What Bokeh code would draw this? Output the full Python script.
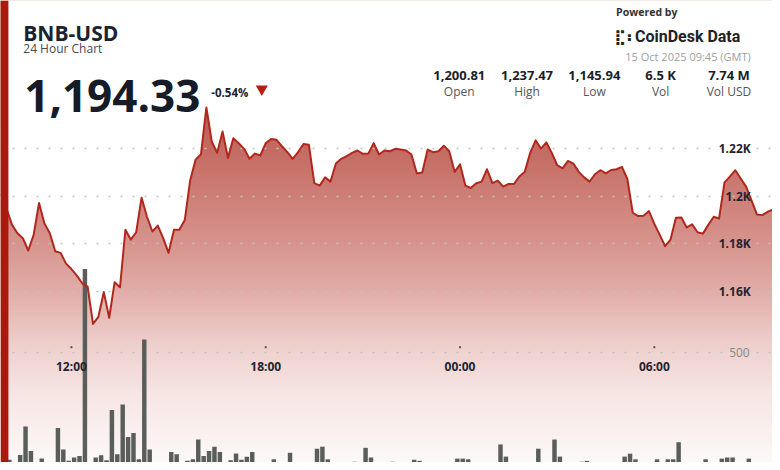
import numpy as np
import pandas as pd
from bokeh.plotting import figure
from bokeh.models import Range1d, Grid, FixedTicker, BoxAnnotation
from bokeh.core.properties import value
from bokeh.embed import file_html
from bokeh.resources import INLINE

# ---------------- data ----------------
symbol = "BNB-USD"
subtitle = "24 Hour Chart"
last_price = "1,194.33"
change_pct = "-0.54%"
stat_values = ["1,200.81", "1,237.47", "1,145.94", "6.5 K", "7.74 M"]
stat_labels = ["Open", "High", "Low", "Vol", "Vol USD"]
powered_by = "Powered by"
brand = "CoinDesk Data"
timestamp_label = "15 Oct 2025 09:45 (GMT)"

price_ticks = [1160, 1180, 1200, 1220]
price_tick_labels = ["1.16K", "1.18K", "1.2K", "1.22K"]
volume_ticks = [500]
volume_tick_labels = ["500"]
time_ticks = ["2025-10-14 12:00", "2025-10-14 18:00", "2025-10-15 00:00", "2025-10-15 06:00"]
time_tick_labels = ["12:00", "18:00", "00:00", "06:00"]

start_time = "2025-10-14 09:50"   # 10-minute candles
prices = [
    1200.8, 1194.5, 1187.9, 1184.4, 1182.3, 1177.1, 1183.7, 1197.1, 1188.5, 1184.4, 1176.8, 1176.1,
    1171.6, 1169.3, 1166.5, 1163.3, 1161.9, 1146.2, 1149.2, 1159.6, 1148.8, 1163.7, 1161.6, 1185.8,
    1181.7, 1184.8, 1199.3, 1191.3, 1185.1, 1187.6, 1182.3, 1176.1, 1185.8, 1185.8, 1189.9, 1206.6,
    1215.3, 1217.6, 1237.3, 1223.0, 1218.2, 1227.2, 1216.1, 1224.4, 1222.3, 1219.9, 1215.7, 1217.9,
    1217.1, 1222.3, 1224.0, 1223.7, 1221.0, 1218.5, 1215.7, 1218.5, 1221.9, 1221.6, 1205.5, 1204.4,
    1207.9, 1206.1, 1213.7, 1215.7, 1216.8, 1218.2, 1219.2, 1217.8, 1217.9, 1222.3, 1217.5, 1219.2,
    1218.9, 1219.9, 1219.6, 1219.2, 1217.5, 1209.5, 1209.9, 1219.6, 1218.5, 1218.9, 1221.2, 1218.9,
    1210.2, 1213.4, 1204.4, 1203.4, 1205.4, 1206.1, 1211.3, 1205.5, 1206.5, 1204.0, 1205.1, 1205.1,
    1208.3, 1210.3, 1218.2, 1223.5, 1220.0, 1222.6, 1218.2, 1213.0, 1211.7, 1214.8, 1213.7, 1210.2,
    1207.9, 1206.1, 1209.2, 1210.9, 1209.6, 1211.0, 1211.3, 1212.3, 1207.2, 1193.0, 1191.6, 1191.7,
    1193.7, 1188.3, 1183.7, 1178.9, 1181.7, 1190.9, 1191.0, 1186.8, 1188.1, 1184.8, 1184.2, 1187.9,
    1191.3, 1190.6, 1205.8, 1208.2, 1210.9, 1207.4, 1204.0, 1198.2, 1192.3, 1192.0, 1193.4, 1194.33,
]
volumes = [
    10, 21, 10, 42, 169, 60, 10, 26, 10, 10, 162, 67,
    16, 31, 38, 870, 10, 31, 41, 19, 242, 45, 267, 122,
    140, 23, 556, 67, 10, 10, 10, 56, 45, 10, 16, 23,
    111, 38, 60, 79, 56, 10, 19, 49, 21, 34, 56, 10,
    10, 10, 23, 10, 10, 52, 10, 10, 10, 10, 70, 79,
    23, 10, 10, 10, 10, 12, 10, 74, 31, 10, 10, 10,
    12, 10, 10, 10, 21, 16, 10, 10, 10, 10, 10, 10,
    26, 26, 23, 10, 10, 10, 10, 10, 89, 35, 10, 10,
    10, 10, 10, 70, 10, 10, 111, 35, 10, 10, 10, 12,
    16, 10, 10, 10, 10, 10, 10, 35, 48, 23, 10, 10,
    10, 23, 10, 23, 23, 99, 10, 10, 10, 10, 23, 10,
    10, 26, 31, 31, 10, 10, 26, 10, 10, 10, 10, 10,
]

# ---------------- layout helpers (reference-canvas pixel -> data) ----------------
W, H = 772, 462            # figure size; the full design canvas is 780 x 470
CW, CH = 780, 470
MID_TIME = pd.Timestamp("2025-10-15 00:00").value / 1e6
MID_PX, PX_PER_HOUR = 464.3, 32.72
REF_PRICE, REF_PX, PX_PER_USD = 1200.0, 199.0, 2.4167
VOL_ZERO_PX, PX_PER_VOL = 472.0, 0.2286


def xpx(px):
    return MID_TIME + (px - MID_PX) / PX_PER_HOUR * 3600e3


def ypr(py):
    return REF_PRICE + (REF_PX - py) / PX_PER_USD


def yvol(py):
    return (VOL_ZERO_PX - py) / PX_PER_VOL


times = pd.date_range(start_time, periods=len(prices), freq="10min")
t_ms = times.asi8 / 1e6
bar_ms = t_ms + 5 * 60e3
tick_ms = [pd.Timestamp(t).value / 1e6 for t in time_ticks]

x0, x1 = xpx(0), xpx(CW)
p0, p1 = ypr(CH), ypr(0)

p = figure(width=W, height=H, x_range=Range1d(x0, x1), y_range=Range1d(p0, p1),
           output_backend="svg", toolbar_location=None,
           x_axis_location=None, y_axis_location=None, min_border=0,
           outline_line_color=None, background_fill_color="white",
           border_fill_color="white")
p.extra_y_ranges = {"vol": Range1d(yvol(CH), yvol(0))}
p.grid.visible = False

# gradient background under the price area
N = H
rows_py = CH - (np.arange(N) + 0.5) * (CH / N)
stops_py = [100, 150, 200, 250, 300, 350, 400, 440, 470]
stops_r = [188, 196, 206, 216, 227, 238, 246, 250, 253]
stops_g = [90, 107, 128, 150, 176, 208, 230, 241, 249]
stops_b = [80, 98, 120, 144, 171, 205, 228, 240, 249]
img = np.empty((N, 1), dtype=np.uint32)
view = img.view(dtype=np.uint8).reshape((N, 1, 4))
view[:, 0, 0] = np.interp(rows_py, stops_py, stops_r).astype(np.uint8)
view[:, 0, 1] = np.interp(rows_py, stops_py, stops_g).astype(np.uint8)
view[:, 0, 2] = np.interp(rows_py, stops_py, stops_b).astype(np.uint8)
view[:, 0, 3] = 255
p.image_rgba(image=[img], x=xpx(-20), y=p0, dw=xpx(CW + 20) - xpx(-20), dh=p1 - p0, level="image")

# white above the price line
p.varea(x=t_ms, y1=prices, y2=p1 + 5, fill_color="white", level="image")

# dotted grids
p.add_layout(Grid(dimension=1, ticker=FixedTicker(ticks=price_ticks),
                  grid_line_color="#c2c2c2", grid_line_width=1.5, grid_line_dash="2 10"))
p.add_layout(Grid(dimension=1, ticker=FixedTicker(ticks=volume_ticks), y_range_name="vol",
                  grid_line_color="#c2c2c2", grid_line_width=1.5, grid_line_dash="2 10"))

# volume bars
p.vbar(x=bar_ms, top=volumes, bottom=0, width=4.5 / PX_PER_HOUR * 3600e3,
       y_range_name="vol", fill_color="#5a5e5a", line_color=None)

# price line
p.line(x=t_ms, y=prices, line_color="#b0281d", line_width=2, line_join="round")

# axis labels drawn inside the plot
p.text(x=[xpx(758)] * len(price_ticks), y=price_ticks, text=price_tick_labels,
       text_font=value("Open Sans"), text_font_style="bold", text_font_size="12px",
       text_color="#1f2430", text_align="right", text_baseline="middle", level="overlay")
p.text(x=[xpx(757)] * len(volume_ticks), y=volume_ticks, text=volume_tick_labels, y_range_name="vol",
       text_font=value("Open Sans"), text_font_size="12px",
       text_color="#8a8a8a", text_align="right", text_baseline="middle", level="overlay")
p.text(x=tick_ms, y=[ypr(372)] * len(tick_ms), text=time_tick_labels,
       text_font=value("Open Sans"), text_font_style="bold", text_font_size="12px",
       text_color="#1f2430", text_align="center", text_baseline="middle", level="overlay")
p.scatter(x=tick_ms, y=[ypr(352.7)] * len(tick_ms), marker="square", size=2,
          fill_color="#555555", line_color=None, level="overlay")


def txt(px, py, s, size, color, bold=False, align="left", font="Open Sans"):
    p.text(x=[xpx(px)], y=[ypr(py)], text=[s], text_font=value(font),
           text_font_size=f"{size}px", text_font_style="bold" if bold else "normal",
           text_color=color, text_align=align, text_baseline="alphabetic", level="overlay")


# header
txt(23, 33, symbol, 21, "#1c2230", bold=True)
txt(23, 49, subtitle, 12, "#4a4a4a")
txt(24, 97, last_price, 44, "#151c28", bold=True)
txt(213, 94, change_pct, 11.5, "#1c2230", bold=True)
p.scatter(x=[xpx(264)], y=[ypr(90)], marker="inverted_triangle", size=12,
          fill_color="#b41e12", line_color=None, level="overlay")

txt(622, 11.5, powered_by, 10.5, "#333333", bold=True)
txt(620, 37, "\u28cf\u2806", 15, "#222222", bold=True, font="DejaVu Sans")
txt(641, 36.7, brand, 16, "#222222", bold=True, font="Roboto")
txt(758, 57, timestamp_label, 11, "#a0a0a0", align="right")

stat_px = [463.5, 532, 600, 667, 736]
for cx, v, lab in zip(stat_px, stat_values, stat_labels):
    txt(cx, 76, v, 13, "#1b1f2a", bold=True, align="center")
    txt(cx, 92.7, lab, 12, "#555555", align="center")

# red accent bar on the left
p.add_layout(BoxAnnotation(left=0, right=8 * W / CW, left_units="screen", right_units="screen",
                           fill_color="#a8190e", fill_alpha=1.0, line_color=None, level="overlay"))

open("out.html", "w").write(file_html(p, INLINE))
